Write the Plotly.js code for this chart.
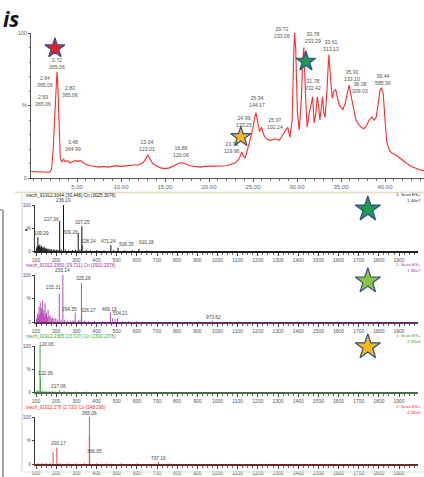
<!DOCTYPE html>
<html><head><meta charset="utf-8">
<script src="https://cdn.plot.ly/plotly-3.0.1.min.js"></script>
<style>html,body{margin:0;padding:0;background:#fff;overflow:hidden}#chart{width:424px;height:477px}</style>
</head><body><div id="chart"></div>
<script>
// ---------- DATA ----------
const chromTime = [-0.2,0.5,1.0,1.5,1.9,2.1,2.3,2.45,2.55,2.59,2.64,2.68,2.72,2.77,2.83,2.9,3.0,3.1,3.25,3.48,3.7,3.9,4.2,4.5,4.8,5.1,5.4,5.7,6.0,6.5,7.0,7.5,8.0,8.5,9.0,9.5,10.0,10.5,11.0,11.5,12.0,12.5,12.8,13.04,13.3,13.6,14.0,14.5,15.0,15.5,16.0,16.5,16.89,17.3,17.8,18.3,19.0,19.5,20.0,20.5,21.0,21.5,22.0,22.5,23.0,23.4,23.73,23.9,24.1,24.4,24.7,24.99,25.2,25.34,25.55,25.75,25.97,26.2,26.5,27.0,27.5,28.0,28.4,28.7,28.95,29.2,29.45,29.6,29.72,29.85,30.05,30.25,30.5,30.65,30.78,30.95,31.15,31.4,31.6,31.78,31.95,32.15,32.3,32.45,32.6,32.8,32.9,33.05,33.2,33.4,33.61,33.8,34.0,34.2,34.4,34.6,34.8,35.0,35.2,35.5,35.8,35.91,36.1,36.38,36.7,37.0,37.3,37.6,37.9,38.2,38.5,38.8,39.0,39.2,39.44,39.6,39.8,40.0,40.2,40.5,40.8,41.2,41.6,42.0,42.5,43.0,43.5,44.0,44.5];
const chromIntensity = [4.5,4.2,4.0,3.8,4.0,6,20,40,52,54,62,68,73,70,62,45,25,14,11,13,11,12,10.5,11,12,11.5,12,10.5,9.5,8.5,8,7.5,8,7.5,8,8.5,8,8.5,8.5,9,9,10.5,13,16,13,10,8.5,7,6.5,7,8.5,10,10.5,10,8.5,8,7.5,8,8,8,8.5,8.5,8.5,9.5,10.5,13,18,15,14,20,28,34,42,45,38,32,35,30,27,26,27,26,30,33,35,28,40,80,100,90,45,33,55,82,90,60,35,45,52,56,38,45,56,50,40,50,56,45,42,60,85,70,55,60,61,55,50,49,47,52,62,64,58,49,40,37,35,34,36,40,42,40,42,50,61,62,58,40,25,19,17,16,14,12,10,8,6.5,5.5,5];
const chromPeakTime = [2.72,2.64,2.83,2.59,3.48,13.04,16.89,23.73,24.99,25.34,25.97,29.72,30.78,31.78,33.61,35.91,36.38,39.44];
const chromPeakMass = ["365.06","365.06","365.06","365.06","364.99","123.01","120.06","119.96","133.25","144.17","102.24","233.06","233.29","232.42","313.13","133.10","309.03","585.36"];
const chromPeakHeight = [73,62,62,54,13,16,10.5,18,34,45,35,100,90,56,85,64,49,61];
const chromTickVals = [5,10,15,20,25,30,35,40];
const chromTickText = ["5.00","10.00","15.00","20.00","25.00","30.00","35.00","40.00"];

const specTitles = ["mech_91912 3044 (30.448) Cn (3025:3076)","mech_91912 2950 (29.721) Cn (2932:2978)","mech_91912 2365 (23.727) Cn (2302:2378)","mech_91912 278 (2.720) Cn (248:298)"];
const specScale = ["1.44e7","1.36e7","4.93e6","4.28e6"];

const spec1Mz = [102,105,109.29,112,116,119,123,127,131,135,139,143,148,153,158,164,170,177,185,193,201,210,217.36,225,236.19,245,262,281,296,309.26,318,327.25,328.24,350,371,402,437,471.24,485,506.35,540,577,610.28,650];
const spec1Int = [6,10,30,12,9,14,8,11,7,9,6,8,5,6,4,5,4,3,4,3,3,2,65,3,100,3,2,2,3,39,3,54,12,2,1.5,2,1.5,13,2,7,1.5,1.5,5,1];
const spec1Labeled = [236.19,217.36,109.29,309.26,327.25,328.24,471.24,506.35,610.28];

const spec2Mz = [103,108,112,115,118,121,124,127,130,133,136,139,142,145,149,152,156,160,165,170,176,183,190,198,206,215.31,224,233.14,242,255,270,284,294.35,310,318,325.26,326.27,340,360,390,430,469.19,480,492,504.21,530,560,600,973.62];
const spec2Int = [8,18,12,32,16,42,20,30,14,46,18,26,12,40,16,20,10,26,12,14,8,10,7,8,5,60,5,100,5,3,3,4,20,4,3,83,15,3,2,2,2,19,8,6,8,2,2,1.5,3];
const spec2Labeled = [233.14,215.31,325.26,294.35,326.27,469.19,504.21,973.62];

const spec3Mz = [104,110,115,120.06,122.39,130,140,152,165,180,195,217.06,240,260,300,350];
const spec3Int = [3,4,2,100,30,3,2,2,1.5,2,1.5,4,1.5,1,1,1];
const spec3Labeled = [120.06,122.39,217.06];

const spec4Mz = [110,130,150,170,185,203.17,220,260,300,340,364.5,365.06,366.05,400,450,520,600,707.10,760];
const spec4Int = [2,1.5,2,2,25,35,2,1.5,1.5,2,62,100,18,1.5,1,1,1,4,1];
const spec4Labeled = [365.06,203.17,366.05,707.10];

const specTickVals = [100,200,300,400,500,600,700,800,900,1000,1100,1200,1300,1400,1500,1600,1700,1800,1900];

// ---------- STYLE / LAYOUT ----------
const W = 424, H = 477;
const fx = p => p / W, fy = p => 1 - p / H;
const FONT = "Liberation Sans, Arial, sans-serif";
const chromPxPerMin = 8.8, chromPxPerPct = 1.45;
const chromLabelOffsets = [[0,-9],[-11,-7],[12,3],[-13,1],[9,-14],[-1,-9],[-1,-11],[-10,-4],[-9,-7],[1,-11],[13,-4],[-13,0],[9,-10],[0,-12],[2,-9],[3,-10],[7,-19],[3,-10]];

const specPanels = [
  {top:205, base:251, line:"#222", stick:"#111", txt:"#222", star:"#1f9a4b", mz:spec1Mz, it:spec1Int, lab:spec1Labeled,
   offs:[[0,-5],[-8,-2],[4,-4],[-8,-1],[1,-4],[6,-4],[-2,-4],[9,-3],[8,-6]], starY:91},
  {top:275, base:322, line:"#6a2c6a", stick:"#b94bb9", txt:"#a030a0", star:"#8cc63e", mz:spec2Mz, it:spec2Int, lab:spec2Labeled,
   offs:[[0,-5],[-6,-6],[2,-4],[-6,-3],[7,-4],[-1,-4],[3,-5],[1,-3]], starY:87},
  {top:346, base:392, line:"#4a6a4a", stick:"#3cae3c", txt:"#35a535", star:"#f6b916", mz:spec3Mz, it:spec3Int, lab:spec3Labeled,
   offs:[[6,-2],[5,-5],[-1,-4]], starY:98},
  {top:417, base:464, line:"#6a2a2a", stick:"#ff4a4a", txt:"#ff2a2a", star:"#ee1c24", mz:spec4Mz, it:spec4Int, lab:spec4Labeled,
   offs:[[0,-4],[2,-4],[5,-4],[0,-4]], starY:108}
];

const traces = [];
const annotations = [];
const shapes = [];
const layout = {
  width: W, height: H, margin:{l:0,r:0,t:0,b:0}, paper_bgcolor:"#fff", plot_bgcolor:"rgba(0,0,0,0)",
  showlegend:false, font:{family:FONT, size:6, color:"#555"},
};

// chromatogram axes
layout.xaxis = {domain:[fx(31),1], range:[-2/chromPxPerMin, (424-33)/chromPxPerMin], anchor:"y",
  showgrid:false, zeroline:false, showline:true, linecolor:"#555", linewidth:1,
  tickvals:chromTickVals, ticktext:chromTickText, ticks:"outside", ticklen:3, tickcolor:"#555",
  tickfont:{size:6, color:"#666", family:FONT}, minor:{dtick:1, ticks:"outside", ticklen:2, tickcolor:"#777"}};
layout.yaxis = {domain:[fy(178), fy(33)], range:[0,100], anchor:"x",
  showgrid:false, zeroline:false, showline:true, linecolor:"#555", linewidth:1,
  tickvals:[0,50,100], ticktext:["0","%","100"], ticks:"outside", ticklen:2, tickcolor:"#555",
  tickfont:{size:5.5, color:"#666", family:FONT}, minor:{dtick:10, ticks:"outside", ticklen:1.5, tickcolor:"#777"}};

traces.push({x:chromTime, y:chromIntensity, type:"scatter", mode:"lines", xaxis:"x", yaxis:"y",
  line:{color:"#ff2a2a", width:1.1}, hoverinfo:"skip"});

chromPeakTime.forEach((t,i)=>{
  const o = chromLabelOffsets[i];
  annotations.push({x:t, y:chromPeakHeight[i], xref:"x", yref:"y", showarrow:false,
    xshift:o[0], yshift:-o[1], xanchor:"center", yanchor:"middle",
    text:t.toFixed(2)+"<br>"+chromPeakMass[i], font:{size:5.2, color:"#555", family:FONT}});
});

// chromatogram stars (tied to peaks), [peak index, dx px, dy px, color]
const chromStars = [[0,-2,-24,"#ee1c24"],[11,0,-15,"#8cc63e"],[12,2,14,"#1f9a4b"],[7,-1,-15,"#f6b916"]];
chromStars.forEach(s=>{
  const i = s[0];
  traces.push({x:[chromPeakTime[i] + s[1]/chromPxPerMin], y:[chromPeakHeight[i] - s[2]/chromPxPerPct],
    type:"scatter", mode:"markers", xaxis:"x", yaxis:"y", cliponaxis:false, hoverinfo:"skip",
    marker:{symbol:"star", size:15, color:s[3], line:{color:"#2f4f8f", width:1.2}}});
});

// spectra
specPanels.forEach((p,k)=>{
  const xa = "xaxis"+(k+2), ya = "yaxis"+(k+2);
  const xr = "x"+(k+2), yr = "y"+(k+2);
  layout[xa] = {domain:[fx(35), fx(418)], range:[95, 95+(418-35)/0.2017], anchor:yr,
    showgrid:false, zeroline:false, showline:true, linecolor:p.line, linewidth:2,
    tickvals:specTickVals, ticks:"outside", ticklen:2.5, tickcolor:"#444",
    tickfont:{size:5, color:"#555", family:FONT}, minor:{dtick:25, ticks:"outside", ticklen:1.5, tickcolor:"#666"}};
  layout[ya] = {domain:[fy(p.base), fy(p.top)], range:[0,100], anchor:xr,
    showgrid:false, zeroline:false, showline:true, linecolor:"#333", linewidth:1,
    tickvals:[0,50,100], ticktext:["0","%","100"], ticks:"outside", ticklen:2, tickcolor:"#444",
    tickfont:{size:5, color:"#555", family:FONT}};
  const sx=[], sy=[];
  p.mz.forEach((m,i)=>{ sx.push(m,m,null); sy.push(0,p.it[i],null); });
  traces.push({x:sx, y:sy, type:"scatter", mode:"lines", xaxis:xr, yaxis:yr,
    line:{color:p.stick, width:1}, hoverinfo:"skip", connectgaps:false});
  p.lab.forEach((m,j)=>{
    const idx = p.mz.indexOf(m);
    const o = p.offs[j];
    annotations.push({x:m, y:p.it[idx], xref:xr, yref:yr, showarrow:false,
      xshift:o[0], yshift:-o[1], xanchor:"center", yanchor:"middle",
      text:m.toFixed(2), font:{size:4.8, color:"#444", family:FONT}});
  });
  traces.push({x:[1745], y:[p.starY], type:"scatter", mode:"markers", xaxis:xr, yaxis:yr,
    cliponaxis:false, hoverinfo:"skip",
    marker:{symbol:"star", size:19, color:p.star, line:{color:"#2f4f8f", width:1.2}}});
  annotations.push({x:fx(24), y:fy(p.top-10), xref:"paper", yref:"paper", showarrow:false,
    xanchor:"left", yanchor:"middle", text:specTitles[k], font:{size:4.6, color:p.txt, family:FONT}});
  annotations.push({x:fx(423), y:fy(p.top-11), xref:"paper", yref:"paper", showarrow:false,
    xanchor:"right", yanchor:"middle", text:"1: Scan ES+", font:{size:4.4, color:p.txt, family:FONT}});
  annotations.push({x:fx(423), y:fy(p.top-5), xref:"paper", yref:"paper", showarrow:false,
    xanchor:"right", yanchor:"middle", text:specScale[k], font:{size:4.4, color:p.txt, family:FONT}});
});

// decorations
annotations.push({x:fx(1), y:fy(19), xref:"paper", yref:"paper", showarrow:false, xanchor:"left", yanchor:"middle",
  text:"<b><i>is</i></b>", font:{size:21, color:"#111", family:"Open Sans, Liberation Sans, sans-serif"}});
annotations.push({x:fx(26), y:fy(229), xref:"paper", yref:"paper", showarrow:false, xanchor:"center", yanchor:"middle",
  text:"•", font:{size:7, color:"#111", family:FONT}});

shapes.push({type:"line", xref:"paper", yref:"paper", x0:fx(15), x1:1, y0:fy(192.5), y1:fy(192.5), line:{color:"#e6dfc6", width:1.5}});
shapes.push({type:"line", xref:"paper", yref:"paper", x0:fx(22), x1:fx(22), y0:fy(194), y1:fy(472), line:{color:"#d2d2d2", width:1}});
shapes.push({type:"line", xref:"paper", yref:"paper", x0:fx(22), x1:1, y0:fy(472), y1:fy(472), line:{color:"#e2e2e2", width:1}});
shapes.push({type:"line", xref:"paper", yref:"paper", x0:fx(3), x1:fx(3), y0:fy(210), y1:0, line:{color:"#888", width:1.5}});
shapes.push({type:"line", xref:"paper", yref:"paper", x0:0, x1:fx(3), y0:fy(210), y1:fy(210), line:{color:"#888", width:1.2}});

layout.annotations = annotations;
layout.shapes = shapes;

Plotly.newPlot("chart", traces, layout, {staticPlot:true, displayModeBar:false});
</script></body></html>
